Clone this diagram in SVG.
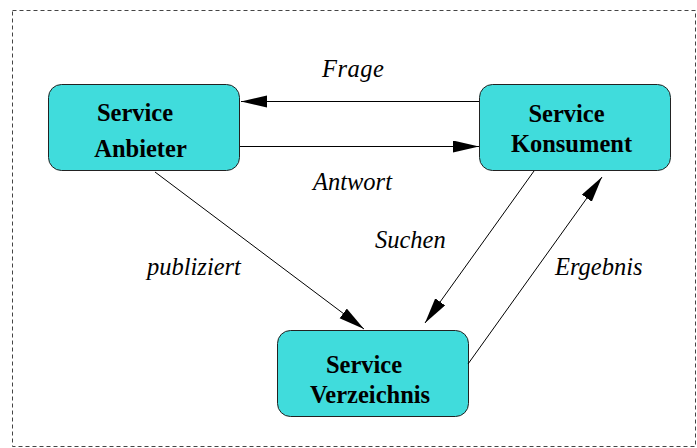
<svg xmlns="http://www.w3.org/2000/svg" width="697" height="448" viewBox="0 0 697 448">
<defs>
<marker id="ah" markerUnits="userSpaceOnUse" markerWidth="27" markerHeight="13" refX="26" refY="6" orient="auto">
<path d="M0,0 L26,6 L0,12 Z" fill="#000"/>
</marker>
<style>
.node{fill:#40dcdc;stroke:#222;stroke-width:1}
.nt{font-family:'Liberation Serif','Times New Roman','DejaVu Serif',serif;font-weight:bold;font-size:24.5px;text-anchor:middle;fill:#000}
.lb{font-family:'Liberation Serif','Times New Roman','DejaVu Serif',serif;font-style:italic;font-size:24.5px;fill:#000}
.ed{stroke:#000;stroke-width:1;fill:none;marker-end:url(#ah)}
</style>
</defs>
<rect x="12.5" y="10.5" width="683" height="436" fill="#fff" stroke="#444" stroke-width="1" stroke-dasharray="4,3"/>
<g id="anbieter">
<rect class="node" x="48.5" y="84.5" width="191" height="86" rx="13"/>
<text class="nt" x="135" y="121">Service</text>
<text class="nt" x="140.5" y="157">Anbieter</text>
</g>
<g id="konsument">
<rect class="node" x="479.5" y="84.5" width="191" height="86" rx="13"/>
<text class="nt" x="566.5" y="122">Service</text>
<text class="nt" x="571.5" y="152">Konsument</text>
</g>
<g id="verzeichnis">
<rect class="node" x="277.5" y="330.5" width="191" height="86" rx="13"/>
<text class="nt" x="364" y="373">Service</text>
<text class="nt" x="370" y="403">Verzeichnis</text>
</g>
<g id="connectors">
<line class="ed" x1="479" y1="101.5" x2="241" y2="101.5"/>
<line class="ed" x1="240" y1="146.5" x2="479" y2="146.5"/>
<line class="ed" x1="155" y1="172" x2="364" y2="329"/>
<line class="ed" x1="534" y1="171" x2="425" y2="323"/>
<line class="ed" x1="468" y1="364" x2="602" y2="177"/>
<text class="lb" x="322" y="77" letter-spacing="0.5">Frage</text>
<text class="lb" x="313" y="190">Antwort</text>
<text class="lb" x="375" y="248">Suchen</text>
<text class="lb" x="555" y="275">Ergebnis</text>
<text class="lb" x="147" y="275">publiziert</text>
</g>
</svg>
